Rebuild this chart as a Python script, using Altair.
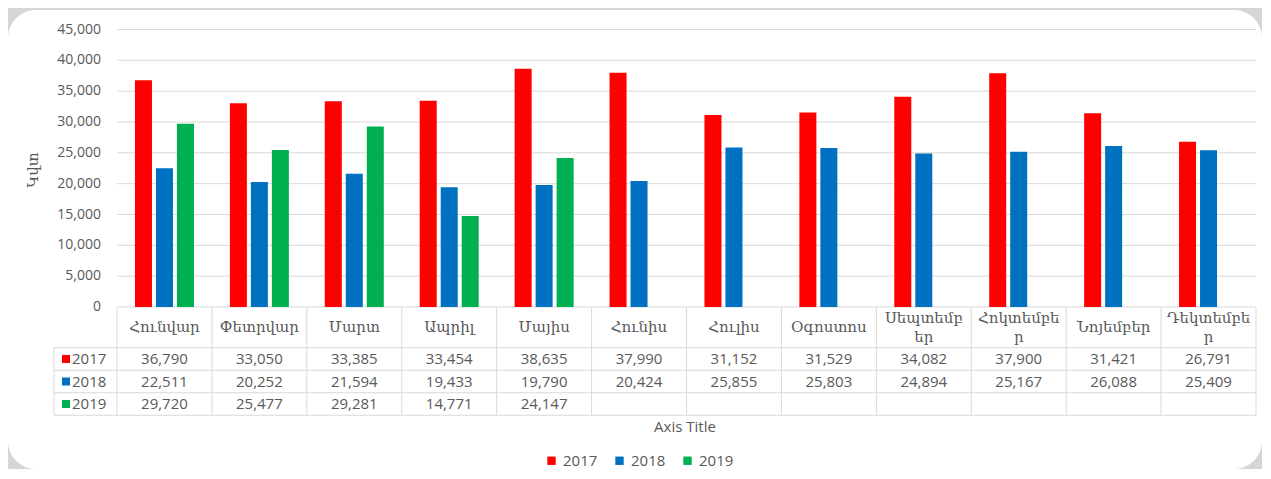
import altair as alt
import pandas as pd

months = ["Հունվար", "Փետրվար", "Մարտ", "Ապրիլ", "Մայիս", "Հունիս",
          "Հուլիս", "Օգոստոս", "Սեպտեմբեր", "Հոկտեմբեր", "Նոյեմբեր", "Դեկտեմբեր"]
header_labels = ["Հունվար", "Փետրվար", "Մարտ", "Ապրիլ", "Մայիս", "Հունիս",
                 "Հուլիս", "Օգոստոս", "Սեպտեմբ\nեր", "Հոկտեմբե\nր", "Նոյեմբեր", "Դեկտեմբե\nր"]
years = ["2017", "2018", "2019"]
v2017 = [36790, 33050, 33385, 33454, 38635, 37990, 31152, 31529, 34082, 37900, 31421, 26791]
v2018 = [22511, 20252, 21594, 19433, 19790, 20424, 25855, 25803, 24894, 25167, 26088, 25409]
v2019 = [29720, 25477, 29281, 14771, 24147, None, None, None, None, None, None, None]
y_ticks = [0, 5000, 10000, 15000, 20000, 25000, 30000, 35000, 40000, 45000]
colors = ["#FF0000", "#0070C0", "#00B050"]
y_title = "Կվտ"
x_title = "Axis Title"

TXT = "#595959"
LINE = "#d9d9d9"
NUM_FONT = "Open Sans"
ARM_FONT = "DejaVu Serif"

rows = []
for ri, (yr, vals) in enumerate(zip(years, [v2017, v2018, v2019])):
    for m, v in zip(months, vals):
        rows.append({"month": m, "year": yr, "ri": ri,
                     "value": v if v is not None else float("nan"),
                     "label": f"{v:,}" if v is not None else ""})
df = pd.DataFrame(rows)
bars_df = df.dropna(subset=["value"])
head_df = pd.DataFrame({"month": months, "head": header_labels})
head_df["two"] = head_df["head"].str.contains("\n")
head1_df = head_df[~head_df["two"]]
head2_df = head_df[head_df["two"]]
tick_df = pd.DataFrame({"tick": y_ticks})
rowlab_df = pd.DataFrame({"year": years, "ri": list(range(len(years)))})
border_df = pd.DataFrame({"b": [r - 0.5 for r in range(len(years) + 1)]})

xscale = alt.Scale(type="band", domain=months, range=[109, 1248], paddingInner=0, paddingOuter=0)
yscale = alt.Scale(domain=[0, 45000], range=[297, 19.5], nice=False, zero=True)
rscale = alt.Scale(domain=[0, 2], range=[349, 394], nice=False, zero=False)
cscale = alt.Scale(domain=years, range=colors)

grid = alt.Chart(tick_df).mark_rule(color=LINE, strokeWidth=1).encode(
    y=alt.Y("tick:Q", scale=yscale, axis=None),
    x=alt.value(109), x2=alt.value(1248))

ticklabels = alt.Chart(tick_df).mark_text(
    align="right", baseline="middle", font=NUM_FONT, fontSize=14, color=TXT).encode(
    y=alt.Y("tick:Q", scale=yscale, axis=None),
    x=alt.value(93),
    text=alt.Text("tick:Q", format=","))

bars = alt.Chart(bars_df).mark_bar().encode(
    x=alt.X("month:N", scale=xscale, axis=None, sort=months),
    xOffset=alt.XOffset("year:N", scale=alt.Scale(domain=years, paddingInner=0.19, paddingOuter=0.855)),
    y=alt.Y("value:Q", scale=yscale, axis=None),
    color=alt.Color("year:N", scale=cscale, legend=alt.Legend(
        title=None, orient="none", legendX=536, legendY=443, direction="horizontal",
        symbolType="square", symbolSize=70, symbolStrokeWidth=0,
        labelFont=NUM_FONT, labelFontSize=15, labelColor=TXT, columnPadding=14)))

vlines = alt.Chart(head_df).mark_rule(color=LINE, strokeWidth=1).encode(
    x=alt.X("month:N", scale=xscale, axis=None, bandPosition=0, sort=months),
    y=alt.value(297), y2=alt.value(405))
vlast = alt.Chart(head_df.tail(1)).mark_rule(color=LINE, strokeWidth=1).encode(
    x=alt.X("month:N", scale=xscale, axis=None, bandPosition=1, sort=months),
    y=alt.value(297), y2=alt.value(405))
vleft = alt.Chart(head_df.head(1)).mark_rule(color=LINE, strokeWidth=1).encode(
    x=alt.value(46), y=alt.value(337), y2=alt.value(405))
hlines = alt.Chart(border_df).mark_rule(color=LINE, strokeWidth=1).encode(
    y=alt.Y("b:Q", scale=rscale, axis=None),
    x=alt.value(46), x2=alt.value(1248))

heads1 = alt.Chart(head1_df).mark_text(
    baseline="middle", font=ARM_FONT, fontSize=15, color=TXT).encode(
    x=alt.X("month:N", scale=xscale, axis=None, sort=months),
    y=alt.value(317),
    text="head:N")

heads2 = alt.Chart(head2_df).mark_text(
    baseline="middle", font=ARM_FONT, fontSize=15, color=TXT, lineBreak="\n", lineHeight=19).encode(
    x=alt.X("month:N", scale=xscale, axis=None, sort=months),
    y=alt.value(308),
    text="head:N")

cells = alt.Chart(df).mark_text(
    baseline="middle", font=NUM_FONT, fontSize=15, color=TXT).encode(
    x=alt.X("month:N", scale=xscale, axis=None, sort=months),
    y=alt.Y("ri:Q", scale=rscale, axis=None),
    text="label:N")

rowsq = alt.Chart(rowlab_df).mark_square(size=64, opacity=1, filled=True).encode(
    x=alt.value(58),
    y=alt.Y("ri:Q", scale=rscale, axis=None),
    color=alt.Color("year:N", scale=cscale, legend=None))

rowtxt = alt.Chart(rowlab_df).mark_text(
    align="left", baseline="middle", font=NUM_FONT, fontSize=15, color=TXT).encode(
    x=alt.value(64),
    y=alt.Y("ri:Q", scale=rscale, axis=None),
    text="year:N")

xtitle = alt.Chart(head_df.head(1)).mark_text(
    baseline="middle", font=NUM_FONT, fontSize=15, color=TXT).encode(
    x=alt.value(677), y=alt.value(417), text=alt.value(x_title))

ytitle = alt.Chart(head_df.head(1)).mark_text(
    baseline="middle", font=ARM_FONT, fontSize=15, color=TXT, angle=270).encode(
    x=alt.value(25), y=alt.value(160), text=alt.value(y_title))

chart = alt.layer(
    grid, ticklabels, bars, vlines, vlast, vleft, hlines, heads1, heads2, cells, rowsq, rowtxt, xtitle, ytitle
).resolve_scale(y="independent").properties(
    width=1254, height=459,
    padding={"left": 0, "top": 2, "right": 0, "bottom": 0},
    autosize=alt.AutoSizeParams(type="none"),
    background="#d6d6d6"
).configure_view(fill="white", strokeWidth=0, cornerRadius=28)

chart.save("out.html", embed_options={"renderer": "svg", "actions": False})
